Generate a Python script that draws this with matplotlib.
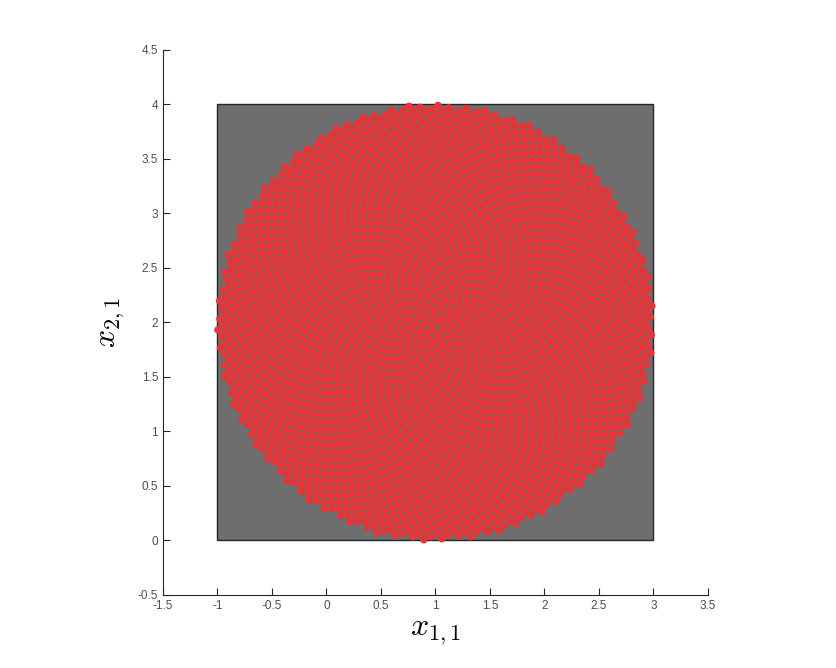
import numpy as np
import matplotlib.pyplot as plt
from matplotlib.patches import Rectangle

plt.rcParams['mathtext.fontset'] = 'cm'
plt.rcParams['font.family'] = ['Liberation Sans', 'DejaVu Sans']

# region and sample disc
box_x = [-1, 3]
box_y = [0, 4]
disc_center = (1.0, 2.0)
disc_radius = 2.0
n_points = 3000

xticks = [-1.5, -1, -0.5, 0, 0.5, 1, 1.5, 2, 2.5, 3, 3.5]
yticks = [-0.5, 0, 0.5, 1, 1.5, 2, 2.5, 3, 3.5, 4, 4.5]

# evenly spread samples over the disc (sunflower layout)
k = np.arange(n_points) + 0.5
r = disc_radius * np.sqrt(k / n_points)
theta = k * np.pi * (3 - np.sqrt(5))
px = disc_center[0] + r * np.cos(theta)
py = disc_center[1] + r * np.sin(theta)

fig = plt.figure(figsize=(8.37, 6.68), dpi=100)
ax = fig.add_axes([0.1947, 0.1093, 0.6511, 0.8159])

ax.add_patch(Rectangle((box_x[0], box_y[0]), box_x[1] - box_x[0], box_y[1] - box_y[0],
                       facecolor='#6e6e6e', edgecolor='#262626', lw=1.0, zorder=1))
ax.scatter(px, py, s=30, c='#e63538', edgecolors='none', zorder=2, clip_on=False)

ax.set_xlim(-1.5, 3.5)
ax.set_ylim(-0.5, 4.5)
ax.set_xticks(xticks)
ax.set_yticks(yticks)
ax.set_xticklabels([f'{t:g}' for t in xticks])
ax.set_yticklabels([f'{t:g}' for t in yticks])

for side in ['top', 'right']:
    ax.spines[side].set_visible(False)
for side in ['left', 'bottom']:
    ax.spines[side].set_color('#262626')
    ax.spines[side].set_linewidth(0.8)
ax.tick_params(direction='in', length=5, width=0.8, colors='#262626',
               labelsize=8.5, labelcolor='#4d4d4d')

ax.set_xlabel(r'$x_{1,1}$', fontsize=23, labelpad=4)
ax.set_ylabel(r'$x_{2,1}$', fontsize=23, labelpad=8)

fig.savefig('out.png', dpi=100)
